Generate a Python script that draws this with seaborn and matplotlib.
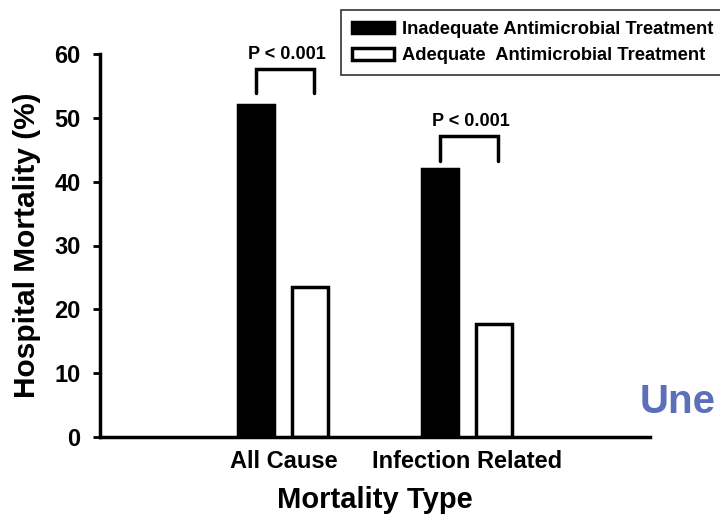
import matplotlib
matplotlib.use("Agg")
import matplotlib.pyplot as plt
import seaborn as sns
import pandas as pd

categories = ["All Cause", "Infection Related"]
groups = ["Inadequate Antimicrobial Treatment", "Adequate  Antimicrobial Treatment"]
inadequate = [52.0, 42.0]
adequate = [23.5, 17.7]
p_labels = ["P < 0.001", "P < 0.001"]
yticks = [0, 10, 20, 30, 40, 50, 60]

df = pd.DataFrame({
    "Mortality Type": categories * 2,
    "Group": [groups[0]] * 2 + [groups[1]] * 2,
    "Value": inadequate + adequate,
})

sns.set_style("ticks")
plt.rcParams["font.family"] = ["Liberation Sans", "DejaVu Sans"]
plt.rcParams["font.weight"] = "bold"
plt.rcParams["text.color"] = "black"
plt.rcParams["axes.labelcolor"] = "black"
plt.rcParams["xtick.color"] = "black"
plt.rcParams["ytick.color"] = "black"
plt.rcParams["axes.edgecolor"] = "black"

fig = plt.figure(figsize=(7.2, 5.15), dpi=100)
ax = fig.add_axes([100 / 720, 1 - 437 / 515, 550 / 720, (437 - 54) / 515])

sns.barplot(data=df, x="Mortality Type", y="Value", hue="Group",
            palette=["black", "white"], edgecolor="black", linewidth=2.5,
            width=0.59, gap=0.33, ax=ax, legend=True)

ax.set_xlim(-1, 2)
ax.set_ylim(0, 60)
ax.set_yticks(yticks)
ax.set_yticklabels([str(t) for t in yticks], fontsize=17, fontweight="bold")
ax.tick_params(axis="y", length=5, width=2, direction="out", pad=9)
ax.tick_params(axis="x", length=0, pad=9)
for lab in ax.get_xticklabels():
    lab.set_fontsize(17)
    lab.set_fontweight("bold")
ax.set_ylabel("Hospital Mortality (%)", fontsize=21.5, fontweight="bold")
ax.yaxis.set_label_coords(-0.107, 0.5)
ax.set_xlabel("Mortality Type", fontsize=21, fontweight="bold", labelpad=10)
sns.despine(ax=ax)
for s in ["left", "bottom"]:
    ax.spines[s].set_linewidth(2.5)

# significance brackets
tops = [57.7, 47.2]
bottoms = [53.9, 43.2]
for i in range(len(categories)):
    x0, x1 = i - 0.148, i + 0.17
    ax.plot([x0, x0, x1, x1], [bottoms[i], tops[i], tops[i], bottoms[i]],
            color="black", lw=2.5, clip_on=False, solid_joinstyle="miter")
    ax.text((x0 + x1) / 2 + 0.01, tops[i] + 0.9, p_labels[i], ha="center", va="bottom",
            fontsize=13, fontweight="bold", clip_on=False)

handles, labels = ax.get_legend_handles_labels()
ax.legend(handles, labels, loc="upper left", bbox_to_anchor=(341 / 720, 1 - 10 / 515),
          bbox_transform=fig.transFigure, borderaxespad=0, frameon=True, fancybox=False,
          edgecolor="black", prop={"weight": "bold", "size": 13.2},
          handlelength=2.3, handleheight=0.6, borderpad=0.6, labelspacing=0.5,
          handletextpad=0.45)
ax.get_legend().get_frame().set_linewidth(1.2)

fig.text(640 / 720, 1 - 402 / 515, "Une", color="#5b70b9", fontsize=29,
         fontweight="bold", ha="left", va="center")

fig.savefig("out.png", dpi=100)
